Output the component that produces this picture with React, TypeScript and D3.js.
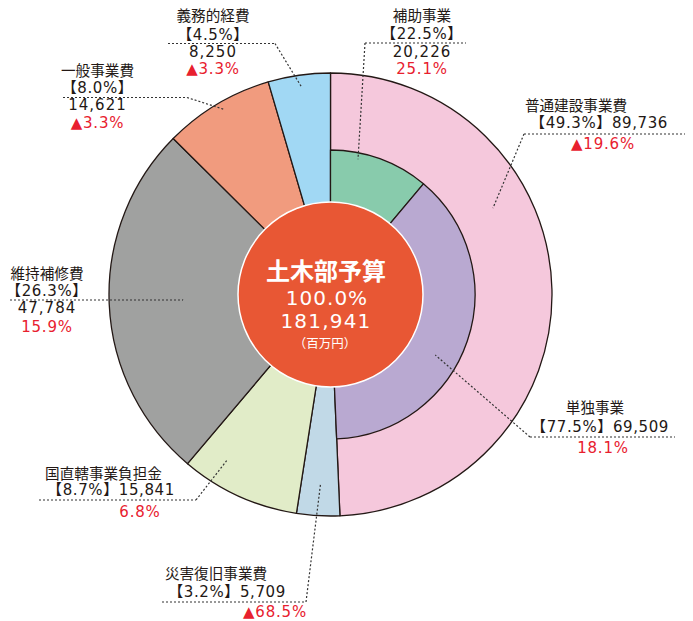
import React from "react";
import * as d3 from "d3";

// ---- data ----
const categories = ["普通建設事業費", "災害復旧事業費", "国直轄事業負担金", "維持補修費", "一般事業費", "義務的経費"];
const amounts = [89736, 5709, 15841, 47784, 14621, 8250];
const shares = ["49.3%", "3.2%", "8.7%", "26.3%", "8.0%", "4.5%"];
const changes = ["▲19.6%", "▲68.5%", "6.8%", "15.9%", "▲3.3%", "▲3.3%"];

const subCategories = ["補助事業", "単独事業"];
const subAmounts = [20226, 69509];
const subShares = ["22.5%", "77.5%"];
const subChanges = ["25.1%", "18.1%"];

const totalTitle = "土木部予算";
const totalShare = "100.0%";
const totalAmount = 181941;
const totalUnit = "（百万円）";

// ---- styles ----
const colors = ["#F5C8DC", "#C1D9E7", "#E1ECC8", "#A0A1A0", "#F19B7E", "#A1D8F4"];
const subColors = ["#88CBAC", "#B9A9D1"];
const centerColor = "#E85734";
const red = "#E8202E";
const ink = "#231815";

const W = 693, H = 621;
const cx = 330.5, cy = 294.5;
const rOuter = 221.5, rInner = 144.5, rCenter = 92.5;

// label layout (positions only)
type Lay = {
  name: string; x: number; titleY: number; shareY: number; amountY?: number; changeY: number; changeX?: number; shareX?: number;
  lineY: number; x0: number; x1: number; elbowX: number; angle: number; r: number; combined: boolean;
};
const layout: Lay[] = [
  { name: "義務的経費", x: 213, titleY: 21, shareY: 39.5, amountY: 57, changeY: 73.5, lineY: 43.5, x0: 168, x1: 275, elbowX: 275, angle: 352, r: 210, combined: false },
  { name: "一般事業費", x: 97.5, titleY: 76, shareY: 92.5, amountY: 110, changeY: 128, lineY: 97.5, x0: 63, x1: 187, elbowX: 187, angle: 330, r: 214, combined: false },
  { name: "補助事業", x: 422, titleY: 21, shareY: 39, amountY: 57, changeY: 74, lineY: 43, x0: 365, x1: 466, elbowX: 365, angle: 11.5, r: 138, combined: false },
  { name: "普通建設事業費", x: 576, shareX: 599, titleY: 111, shareY: 128, changeY: 149, changeX: 603, lineY: 134, x0: 524, x1: 685, elbowX: 524, angle: 62, r: 184, combined: true },
  { name: "単独事業", x: 595, shareX: 600, titleY: 413, shareY: 431.5, changeY: 453, changeX: 603, lineY: 437, x0: 530, x1: 675, elbowX: 530, angle: 120, r: 121, combined: true },
  { name: "維持補修費", x: 47, titleY: 279, shareY: 295.5, amountY: 313, changeY: 331.5, lineY: 300, x0: 10, x1: 183, elbowX: 183, angle: 268, r: 148, combined: false },
  { name: "国直轄事業負担金", x: 103.5, shareX: 111, titleY: 479, shareY: 495, changeY: 517, changeX: 140, lineY: 500, x0: 39, x1: 196, elbowX: 196, angle: 212, r: 196, combined: true },
  { name: "災害復旧事業費", x: 216, shareX: 227, titleY: 579, shareY: 596.5, changeY: 616.5, changeX: 275, lineY: 602, x0: 162, x1: 306, elbowX: 306, angle: 183, r: 189, combined: true },
];

const fmt = d3.format(",");

export default function App() {
  const pie = d3.pie<number>().sort(null).value((d) => d);
  const arcs = pie(amounts);
  const mainEnd = arcs[0].endAngle;
  const subArcs = d3.pie<number>().sort(null).value((d) => d).startAngle(0).endAngle(mainEnd)(subAmounts);

  const outerArc = d3.arc<d3.PieArcDatum<number>>().innerRadius(0).outerRadius(rOuter);
  const innerArc = d3.arc<d3.PieArcDatum<number>>().innerRadius(0).outerRadius(rInner);

  const info: Record<string, { share: string; amount: number; change: string }> = {};
  categories.forEach((c, i) => (info[c] = { share: shares[i], amount: amounts[i], change: changes[i] }));
  subCategories.forEach((c, i) => (info[c] = { share: subShares[i], amount: subAmounts[i], change: subChanges[i] }));

  const cjk = "'Noto Sans CJK JP', sans-serif";
  const latin = "'DejaVu Sans', 'Noto Sans CJK JP', sans-serif";

  const polar = (deg: number, r: number) => {
    const a = (deg * Math.PI) / 180;
    return [cx + r * Math.sin(a), cy - r * Math.cos(a)];
  };

  return (
    <svg width={W} height={H} style={{ position: "absolute", left: 0, top: 0, background: "#fff" }}>
      <g transform={`translate(${cx},${cy})`}>
        {arcs.map((a, i) => (
          <path key={categories[i]} d={outerArc(a) || ""} fill={colors[i]} stroke={ink} strokeWidth={1.3} strokeLinejoin="round" />
        ))}
        {subArcs.map((a, i) => (
          <path key={subCategories[i]} d={innerArc(a) || ""} fill={subColors[i]} stroke={ink} strokeWidth={1.3} strokeLinejoin="round" />
        ))}
        <circle r={rCenter} fill={centerColor} stroke="#fff" strokeWidth={1.5} />
      </g>

      {/* leader lines */}
      {layout.map((l) => {
        const [ax, ay] = polar(l.angle, l.r);
        return (
          <g key={"ln" + l.name} fill="none" stroke="#333" strokeWidth={1.2} strokeDasharray="2 2">
            <line x1={l.x0} y1={l.lineY} x2={l.x1} y2={l.lineY} />
            <line x1={l.elbowX} y1={l.lineY} x2={ax} y2={ay} />
          </g>
        );
      })}

      {/* labels */}
      {layout.map((l) => {
        const d = info[l.name];
        return (
          <g key={"lb" + l.name} textAnchor="middle" fill={ink}>
            <text x={l.x} y={l.titleY} fontFamily={cjk} fontSize={14.6}>{l.name}</text>
            {l.combined ? (
              <text x={l.shareX ?? l.x} y={l.shareY} fontFamily={latin} fontSize={15} letterSpacing={0.6}>
                {`【${d.share}】${fmt(d.amount)}`}
              </text>
            ) : (
              <>
                <text x={l.x} y={l.shareY} fontFamily={latin} fontSize={15} letterSpacing={0.6}>{`【${d.share}】`}</text>
                <text x={l.x} y={l.amountY} fontFamily={latin} fontSize={15} letterSpacing={1}>{fmt(d.amount)}</text>
              </>
            )}
            <text x={l.changeX ?? l.x} y={l.changeY} fontFamily={latin} fontSize={15} letterSpacing={0.8} fill={red}>{d.change}</text>
          </g>
        );
      })}

      {/* center */}
      <g textAnchor="middle" fill="#fff">
        <text x={326} y={279.5} fontFamily={cjk} fontSize={24} fontWeight={700}>{totalTitle}</text>
        <text x={327} y={304.5} fontFamily={latin} fontSize={20} letterSpacing={1}>{totalShare}</text>
        <text x={326} y={327.5} fontFamily={latin} fontSize={20} letterSpacing={1.2}>{fmt(totalAmount)}</text>
        <text x={325} y={348} fontFamily={cjk} fontSize={12.5}>{totalUnit}</text>
      </g>
    </svg>
  );
}
